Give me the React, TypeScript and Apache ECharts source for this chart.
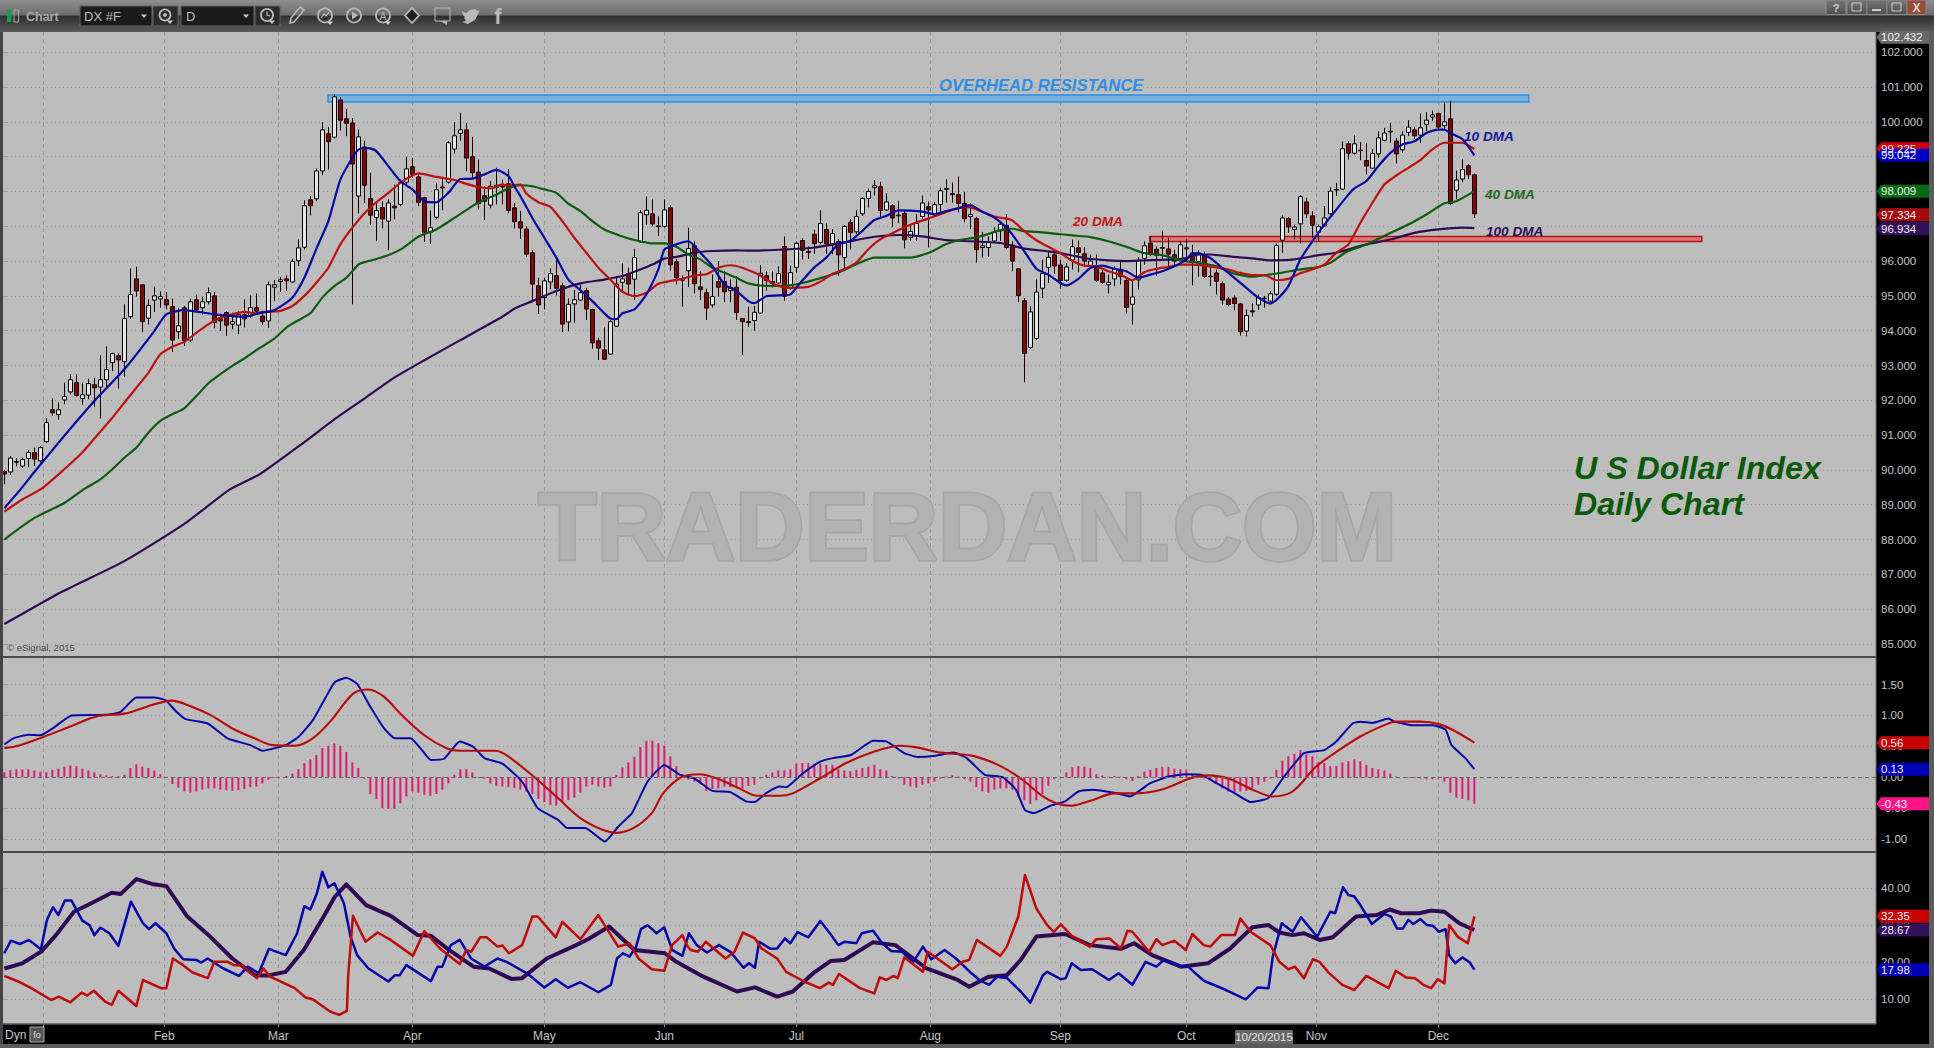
import React, { useEffect, useRef } from "react";
import * as echarts from "echarts";

// [open, close, low, high] per trading day
const ohlc: number[][] = [
[89.95,89.88,89.59,90.0],[89.94,90.34,89.86,90.40],[90.24,90.22,90.10,90.33],[90.11,90.30,90.06,90.35],[90.33,90.50,90.08,90.57],[90.50,90.31,90.11,90.64],[90.26,90.64,90.21,90.69],[90.81,91.36,90.78,91.48],[91.73,91.64,91.55,92.06],[91.59,91.73,91.44,91.94],
[92.01,92.11,91.89,92.51],[92.24,92.59,92.17,92.75],[92.51,92.14,92.11,92.75],[92.05,92.16,91.87,92.51],[92.15,92.48,92.03,92.62],[92.45,92.36,91.82,92.65],[92.38,92.59,91.48,93.29],[92.59,92.88,92.36,93.55],[93.08,93.34,92.84,93.37],[93.28,93.16,92.34,93.35],
[93.11,94.35,92.68,94.76],[94.40,95.04,94.34,95.79],[95.49,95.14,94.98,95.84],[95.32,94.26,93.96,95.32],[94.36,94.72,94.18,94.90],[94.88,95.00,94.54,95.27],[94.91,94.98,94.66,95.13],[94.89,94.74,94.61,95.11],[94.69,93.73,93.39,94.92],[93.97,94.14,93.77,94.66],
[94.66,93.72,93.56,94.71],[93.73,94.83,93.67,94.92],[94.89,94.60,94.56,95.04],[94.66,94.83,94.47,94.98],[94.83,95.09,94.76,95.24],[95.00,94.23,94.07,95.11],[94.34,94.28,93.99,94.47],[94.52,94.16,93.85,94.56],[94.19,94.26,94.04,94.52],[94.16,94.46,93.90,94.56],
[94.46,94.34,94.09,94.90],[94.42,94.66,94.37,95.01],[94.66,94.56,94.47,95.07],[94.42,94.26,94.16,94.50],[94.28,95.32,94.08,95.41],[95.25,95.32,94.85,95.45],[95.41,95.46,95.11,95.55],[95.49,95.43,95.14,95.59],[95.40,95.99,95.38,96.07],[96.01,96.38,95.86,96.62],
[96.40,97.59,96.33,97.75],[97.76,97.59,97.31,97.87],[97.79,98.59,97.72,98.66],[98.59,99.77,98.47,99.99],[99.66,99.43,98.63,99.86],[99.56,100.72,99.52,100.78],[100.63,100.05,99.75,100.72],[100.09,99.96,99.59,100.37],[99.97,98.79,94.76,100.11],[97.87,99.57,97.37,99.78],
[99.28,98.18,97.67,99.46],[97.80,97.32,97.05,98.54],[97.25,97.45,96.57,97.72],[97.54,97.21,96.94,97.72],[97.15,97.67,96.31,97.77],[97.58,97.53,97.20,98.20],[97.63,98.25,97.58,98.34],[98.27,98.65,98.15,99.00],[98.71,98.49,98.39,98.97],[98.42,97.69,97.58,98.54],
[97.82,96.81,96.55,97.85],[96.83,96.96,96.49,97.45],[97.26,98.05,97.20,98.25],[98.13,98.10,97.46,98.42],[98.27,99.40,98.23,99.45],[99.22,99.60,99.09,99.99],[99.67,99.77,99.46,100.26],[99.77,98.96,98.58,99.97],[99.00,98.54,98.39,99.57],[98.56,97.65,97.48,98.92],
[97.88,97.72,97.18,98.15],[97.61,98.15,97.52,98.30],[98.11,98.18,97.63,98.68],[98.16,98.13,97.63,98.34],[98.22,97.46,97.37,98.65],[97.53,97.13,96.94,97.67],[97.13,96.95,96.64,97.44],[96.92,96.20,96.11,97.00],[96.24,95.34,94.82,96.31],[95.29,94.74,94.48,95.52],
[94.95,95.43,94.61,95.52],[95.40,95.64,95.19,95.79],[95.58,95.22,95.01,96.10],[95.29,94.19,93.96,95.38],[94.25,94.76,93.98,94.93],[94.77,94.89,94.23,95.17],[94.88,95.09,94.85,95.33],[95.15,94.62,94.31,95.23],[94.61,93.65,93.48,94.63],[93.71,93.50,93.16,93.80],
[93.45,93.18,93.16,94.09],[93.33,94.26,93.31,94.31],[94.13,95.34,94.11,95.57],[95.39,95.49,95.14,95.93],[95.64,95.34,95.04,95.81],[95.48,96.10,94.88,96.35],[96.55,97.39,96.52,97.47],[97.33,97.46,97.05,97.86],[97.36,97.07,97.00,97.77],[97.01,96.99,96.72,97.29],
[97.00,97.47,96.96,97.77],[97.53,95.89,95.73,97.60],[95.98,95.52,95.33,96.07],[95.45,95.50,94.69,95.59],[95.72,96.36,95.26,96.96],[96.44,95.35,95.07,96.57],[95.26,95.18,94.88,95.71],[95.09,94.65,94.31,95.21],[94.74,94.98,94.66,95.62],[95.41,95.25,94.98,96.00],
[95.41,95.12,94.82,95.71],[95.15,95.25,94.82,95.47],[95.25,94.52,94.31,95.57],[94.35,94.26,93.30,94.37],[94.26,94.23,94.11,94.69],[94.29,94.53,94.00,94.71],[94.51,95.65,94.48,95.89],[95.58,95.44,95.15,95.72],[95.41,95.36,95.24,95.72],[95.37,95.64,95.34,95.85],
[96.42,94.99,94.86,96.71],[95.22,95.67,95.18,95.87],[95.82,96.51,95.67,96.56],[96.59,96.31,96.04,96.66],[96.28,96.25,96.06,96.42],[96.77,96.50,96.20,96.90],[96.54,97.08,96.49,97.46],[96.91,96.50,96.20,97.08],[96.49,96.79,96.20,96.92],[96.56,96.18,95.58,96.63],
[96.10,97.00,95.75,97.03],[97.11,96.82,96.33,97.21],[96.84,97.28,96.78,97.46],[97.36,97.80,97.30,97.83],[97.80,98.00,97.54,98.09],[98.11,98.17,97.88,98.33],[98.14,97.45,97.25,98.28],[97.47,97.70,97.44,97.95],[97.59,97.24,96.97,97.64],[97.32,97.30,97.09,97.73],
[97.37,96.61,96.37,97.44],[96.68,96.85,96.58,97.06],[96.73,97.08,96.58,97.35],[97.28,97.67,97.22,97.88],[97.57,97.47,96.39,97.71],[97.33,97.62,97.28,97.70],[97.63,98.02,97.40,98.11],[98.06,98.09,97.68,98.35],[97.94,97.91,97.68,98.26],[97.91,97.66,97.40,98.43],
[97.66,97.22,97.11,97.99],[97.28,97.34,96.92,97.67],[97.22,96.33,95.96,97.28],[96.39,96.44,96.10,96.84],[96.39,96.54,96.12,96.71],[96.58,96.82,96.54,96.97],[96.87,97.06,96.58,97.16],[97.03,96.39,96.34,97.35],[96.46,96.00,95.71,96.57],[95.78,95.01,94.82,95.80],
[94.86,93.35,92.52,94.94],[93.52,94.54,93.48,94.70],[93.78,95.11,93.73,95.47],[95.22,95.64,94.94,96.04],[95.82,96.11,95.37,96.28],[96.18,95.86,95.64,96.23],[95.89,95.44,95.21,96.04],[95.45,95.83,95.40,95.95],[96.03,96.41,95.76,96.62],[96.38,96.25,95.68,96.59],
[96.21,96.00,95.83,96.41],[95.85,96.00,95.83,96.19],[95.85,95.45,95.40,96.19],[95.66,95.39,95.34,95.76],[95.32,95.39,95.07,95.61],[95.49,95.78,95.28,95.85],[95.76,95.56,95.33,96.00],[95.44,94.67,94.49,95.55],[94.76,94.97,94.18,95.47],[95.46,96.02,95.18,96.11],
[96.08,96.44,95.90,96.57],[96.52,96.23,96.14,96.71],[96.34,96.17,95.58,96.43],[96.39,96.37,96.02,96.88],[96.35,96.20,95.83,96.67],[96.18,96.00,95.83,96.33],[96.06,96.47,96.02,96.57],[96.35,96.38,96.02,96.62],[96.23,95.98,95.30,96.47],[95.99,96.23,95.55,96.31],
[96.17,95.56,95.52,96.28],[95.57,95.55,95.28,95.87],[95.66,95.42,95.04,95.76],[95.35,94.88,94.75,95.42],[94.91,94.75,94.70,94.97],[94.94,94.78,94.59,95.01],[94.77,93.97,93.86,94.80],[93.99,94.44,93.84,94.61],[94.57,94.54,94.40,94.80],[94.74,94.95,94.59,95.04],
[94.92,94.94,94.66,95.00],[94.85,95.06,94.80,95.14],[95.05,96.45,95.00,96.51],[96.60,97.24,96.24,97.31],[97.22,96.98,96.81,97.27],[96.91,96.98,96.62,97.05],[97.07,97.85,96.51,97.89],[97.70,97.36,97.24,97.82],[97.30,97.03,96.67,97.44],[96.83,96.99,96.57,97.05],
[97.01,97.24,96.99,97.58],[97.36,98.01,97.33,98.12],[98.04,98.06,97.87,98.25],[98.07,99.23,98.04,99.44],[99.37,99.10,98.92,99.44],[99.10,99.37,99.06,99.61],[99.19,99.17,98.90,99.42],[98.89,98.73,98.49,99.40],[98.67,99.09,98.65,99.22],[99.08,99.54,98.97,99.73],
[99.47,99.68,99.44,99.83],[99.71,99.73,99.40,99.97],[99.45,99.08,98.80,99.54],[99.20,99.62,99.11,99.73],[99.70,99.85,99.59,100.05],[99.77,99.60,99.51,99.86],[99.62,99.83,99.40,100.24],[99.93,100.05,99.73,100.28],[100.14,100.20,100.02,100.33],[100.24,99.85,99.78,100.26],
[99.89,100.00,99.80,100.56],[100.09,97.65,97.61,100.61],[98.04,98.33,97.77,98.60],[98.36,98.63,98.27,98.92],[98.74,98.48,98.36,98.78],[98.48,97.36,97.24,98.52],
];

// moving averages: [bar number, value]
const dma10: number[][] = [[0,88.9],[2.7,89.44],[5,89.94],[10,90.98],[15,91.98],[20,92.89],[25,93.99],[27,94.47],[30,94.59],[35,94.47],[40,94.40],[42,94.48],[43,94.52],[45,94.59],[48,94.95],[50,95.52],[52,96.35],[54,97.15],[56,98.34],[58,98.97],[59,99.2],[60,99.25],[61,99.24],[62,99.16],[64,98.73],[66,98.3],[68,98.06],[70,97.72],[72,97.69],[74,97.96],[76,98.36],[78,98.37],[80,98.49],[82,98.62],[84,98.45],[85,98.15],[86,97.87],[88,97.24],[90,96.67],[92,96.1],[94,95.47],[96,95.17],[98,94.85],[100,94.5],[101,94.35],[102,94.33],[103,94.5],[105,94.61],[107,95.04],[109,95.76],[110,96.33],[112,96.48],[114,96.57],[116,96.24],[118,95.86],[120,95.33],[122,95.14],[124,94.85],[125,94.79],[127,94.99],[130,95.02],[131,95.04],[133,95.44],[135,95.82],[137,96.1],[139,96.49],[141,96.58],[143,96.87],[145,97.18],[147,97.3],[149,97.46],[151,97.45],[153,97.42],[155,97.35],[157,97.44],[159,97.52],[161,97.61],[163,97.42],[165,97.25],[167,96.97],[168,96.76],[170,96.28],[172,95.78],[174,95.61],[176,95.37],[177,95.3],[179,95.49],[181,95.8],[183,95.87],[185,95.78],[187,95.71],[189,95.52],[191,95.61],[193,95.71],[195,95.85],[197,96.04],[198,96.22],[199,96.22],[201,96.09],[203,95.8],[205,95.52],[207,95.23],[209,94.95],[211,94.78],[212,94.88],[214,95.28],[216,96.05],[218,96.57],[220,97.05],[222,97.48],[224,97.91],[225,98.09],[227,98.3],[229,98.73],[231,99.11],[233,99.35],[235,99.44],[237,99.68],[239,99.78],[240,99.78],[241,99.68],[243,99.51],[245,99.04]];
const dma20: number[][] = [[0,88.8],[3,89.15],[6.2,89.46],[10,90.02],[13,90.5],[15,90.9],[18,91.5],[20,91.93],[22,92.36],[24,92.79],[26,93.32],[28,93.54],[30,93.68],[32,93.94],[34,94.18],[36,94.37],[38,94.47],[40,94.54],[42,94.5],[43,94.54],[46,94.57],[48,94.71],[50,95.0],[52,95.38],[54,95.81],[56,96.48],[58,96.96],[60,97.37],[62,97.69],[64,97.96],[66,98.25],[68,98.46],[69,98.52],[72,98.42],[75,98.33],[77,98.22],[79,98.13],[81,98.09],[83,98.2],[84,98.17],[86,98.2],[87,97.94],[89,97.69],[91,97.56],[93,97.15],[95,96.67],[97,96.24],[99,95.81],[101,95.47],[103,95.12],[105,94.99],[107,95.09],[109,95.35],[111,95.43],[113,95.49],[115,95.59],[117,95.62],[119,95.81],[121,95.88],[123,95.81],[125,95.67],[126,95.58],[128,95.37],[130,95.24],[132,95.24],[134,95.26],[136,95.41],[138,95.63],[140,95.77],[142,95.96],[144,96.34],[146,96.63],[148,96.8],[150,96.97],[152,97.11],[154,97.22],[156,97.35],[158,97.47],[160,97.56],[161,97.54],[163,97.42],[165,97.28],[167,97.22],[168,97.17],[170,96.86],[172,96.6],[174,96.41],[176,96.23],[178,96.0],[180,95.87],[182,95.85],[184,95.71],[186,95.61],[188,95.45],[190,95.68],[192,95.78],[194,95.83],[196,95.9],[198,95.9],[200,95.87],[202,95.82],[204,95.76],[206,95.66],[208,95.6],[210,95.6],[212,95.45],[214,95.49],[216,95.65],[218,95.76],[220,95.9],[222,96.24],[224,96.48],[226,97.1],[228,97.67],[230,98.2],[232,98.46],[234,98.68],[236,98.9],[238,99.21],[240,99.4],[243,99.4],[245,99.22]];
const dma40: number[][] = [[0,88.0],[5,88.62],[10,89.05],[13.4,89.46],[16,89.73],[18,90.02],[20,90.35],[22,90.64],[24,91.07],[26,91.41],[28,91.6],[30,91.77],[32,92.12],[34,92.49],[36,92.75],[38,92.99],[40,93.2],[42,93.44],[45,93.77],[47,94.09],[49,94.3],[51,94.5],[53,94.95],[55,95.28],[57,95.52],[59,95.9],[60,95.97],[63,96.11],[66,96.33],[69,96.7],[72,96.91],[75,97.24],[78,97.58],[80,97.77],[82,97.91],[84,98.09],[86,98.18],[88,98.15],[90,98.06],[92,97.96],[94,97.65],[96,97.44],[98,97.15],[100,96.91],[102,96.77],[104,96.65],[106,96.57],[108,96.51],[110,96.51],[112,96.41],[114,96.19],[116,96.05],[118,95.81],[120,95.67],[122,95.52],[124,95.36],[127,95.29],[130,95.29],[133,95.37],[136,95.51],[139,95.67],[142,95.91],[145,96.1],[148,96.1],[151,96.1],[154,96.23],[157,96.49],[159,96.6],[162,96.68],[164,96.78],[166,96.89],[168,96.93],[170,96.86],[172,96.84],[175,96.79],[178,96.74],[181,96.69],[184,96.57],[187,96.41],[190,96.23],[193,96.17],[196,96.02],[199,95.95],[202,95.85],[205,95.64],[208,95.55],[210,95.59],[213,95.67],[216,95.76],[219,95.83],[221,95.95],[223,96.19],[224,96.29],[227,96.48],[231,96.81],[234,97.05],[237,97.34],[240,97.66],[242,97.72],[245,98.01]];
const dma100: number[][] = [[0,85.57],[9.6,86.5],[20,87.38],[30,88.45],[37.6,89.44],[42.6,89.88],[50,90.8],[55,91.45],[60,92.05],[65,92.65],[70,93.15],[76,93.73],[83,94.4],[85,94.63],[88,94.85],[92,95.14],[96,95.36],[100,95.47],[103,95.57],[106,95.76],[108,95.9],[110,96.07],[112,96.12],[115,96.24],[118,96.29],[122,96.31],[124,96.3],[131,96.34],[135,96.39],[140,96.54],[145,96.7],[149,96.75],[153,96.71],[157,96.6],[161,96.57],[166,96.52],[170,96.36],[174,96.28],[176,96.23],[180,96.09],[184,96.02],[187,96.0],[190,96.02],[194,96.04],[197,96.09],[199,96.19],[201,96.19],[205,96.12],[208,96.08],[211,96.02],[215,96.05],[219,96.17],[222,96.24],[227,96.48],[231,96.62],[235,96.81],[239,96.91],[243,96.96],[245,96.95]];

// MACD pane
const macdLine: number[][] = [[0,.53],[1.5,.63],[4.1,.69],[6,.68],[8.2,.80],[11.2,1.00],[17.1,1.01],[19.4,1.06],[22,1.29],[25,1.29],[26.8,1.25],[28.7,1.06],[30.2,.94],[33.9,.87],[37.2,.63],[41,.52],[43,.43],[46.9,.52],[49.1,.66],[51.4,.92],[53.6,1.30],[55.1,1.54],[57,1.61],[58.8,1.51],[61,1.14],[63.3,.79],[65.1,.63],[67.7,.63],[69.6,.44],[71.1,.28],[73.3,.30],[75.9,.58],[78.2,.49],[80,.31],[83,.22],[86.3,-.07],[88.9,-.50],[92.3,-.69],[93.8,-.82],[96.8,-.82],[100.1,-1.04],[102.3,-.80],[104.6,-.58],[107.2,-.07],[110,.20],[112.6,.04],[115,-.02],[118,-.22],[121,-.24],[123.6,-.39],[125.1,-.40],[126.9,-.26],[129.2,-.15],[130.3,-.16],[132.9,.05],[135.9,.25],[138.1,.31],[141.1,.36],[144.8,.59],[147,.58],[150,.39],[152.2,.33],[155.2,.35],[158.2,.40],[160.4,.31],[163.4,.04],[166.4,0],[168.6,-.20],[170.1,-.53],[171.6,-.58],[174.6,-.45],[176.8,-.39],[179,-.23],[181.3,-.20],[185,-.25],[187.6,-.31],[190.9,-.10],[193.9,.01],[196.9,.05],[199.5,.04],[202.1,-.10],[205.1,-.26],[207.7,-.40],[210.6,-.34],[213.3,.01],[216.6,.39],[220,.44],[222,.58],[224.7,.87],[226,.90],[228,.88],[230.7,.95],[231.7,.90],[234.8,.84],[238.1,.84],[240.2,.77],[241.2,.52],[243.5,.31],[245,.13]];
const macdSignal: number[][] = [[0,.47],[2.3,.51],[6.7,.66],[11.2,.83],[15.6,.99],[20.1,1.03],[24.6,1.17],[27.9,1.24],[30.5,1.17],[34.3,1.01],[38,.79],[41.7,.63],[44.7,.52],[48.4,.51],[51.4,.63],[54.3,.90],[58.1,1.35],[60.7,1.42],[63.3,1.30],[66.2,1.01],[70,.68],[73.7,.47],[75.9,.43],[81.9,.43],[84.1,.33],[88.6,-.02],[92.3,-.34],[96,-.66],[99.7,-.85],[102,-.90],[104.9,-.82],[107.9,-.58],[109.8,-.26],[112.8,0],[115.8,.05],[118.8,-.02],[122.5,-.18],[125.5,-.30],[129.2,-.30],[131.4,-.26],[135.9,-.02],[140.3,.23],[144.8,.41],[149.3,.51],[152.2,.48],[156,.40],[161.2,.35],[165.6,.20],[169.4,-.02],[173.1,-.31],[175.3,-.42],[177.9,-.46],[181.3,-.37],[185,-.26],[188.7,-.26],[193.2,-.19],[197.6,-.02],[200.6,.03],[204.3,-.03],[208,-.20],[211.4,-.31],[214.7,-.23],[218.6,.17],[222,.41],[226,.66],[230.4,.86],[232,.90],[236.1,.90],[239.1,.86],[241.5,.76],[245,.56]];
const macdHist: number[] = [
.08,.12,.13,.13,.13,.11,.09,.08,.12,.14,.17,.19,.18,.14,.11,.08,.05,.03,.02,.02,.04,.15,.21,.17,.15,.11,.05,-.01,
-.11,-.17,-.23,-.25,-.23,-.20,-.18,-.18,-.20,-.21,-.22,-.21,-.19,-.16,-.15,-.10,-.04,
-.01,0,.02,.06,.13,.23,.29,.36,.47,.51,.55,.51,.41,.24,.15,
-.02,-.27,-.35,-.50,-.51,-.51,-.42,-.31,-.23,-.25,-.28,-.30,-.27,-.20,-.10,.04,.13,.13,.08,-.01,
-.02,-.10,-.14,-.15,-.16,-.17,-.20,-.23,-.27,-.35,-.40,-.45,-.46,-.41,-.37,-.33,-.25,-.15,-.12,-.15,-.17,-.15,
.04,.16,.24,.33,.49,.59,.59,.55,.51,.34,.18,
.05,-.04,-.07,-.10,-.22,-.19,-.18,-.15,-.16,-.15,-.18,-.14,-.12,-.02,.04,.08,.11,.11,.13,.22,.23,.23,.22,.22,.20,.20,.13,.11,.10,.12,.15,.17,.20,.13,.11,.02,-.02,
-.12,-.15,-.17,-.12,-.10,-.07,-.02,.01,.03,.01,-.03,-.07,-.16,-.23,-.25,-.20,-.18,-.18,-.20,-.31,-.37,-.43,-.37,-.27,-.14,-.03,-.01,.08,.16,.18,.17,.15,.05,.03,.01,.02,.01,-.03,-.06,.02,.09,.12,.15,.17,.17,.14,.13,.12,.04,.01,-.02,-.04,-.10,-.18,-.23,-.25,-.23,-.22,-.18,-.12,-.07,-.02,.12,.27,.34,.38,.44,.37,.34,.25,
.23,.18,.18,.24,.26,.29,.26,.20,.15,.13,.11,.06,.01,0,-.01,-.01,-.02,-.03,-.03,-.02,-.07,-.25,-.33,-.35,-.37,-.43,
];

// directional pane
const dmiBlue: number[][] = [[0,22.4],[1.1,25.8],[2.6,24.9],[4.1,26.0],[6.1,23.5],[7.1,31.4],[8.1,34.8],[9,32.7],[10.1,36.6],[11.2,36.6],[13,31.2],[14.2,30.0],[15,27.3],[16,29.3],[17.5,27.8],[19,24.4],[21.1,36.3],[23.1,30.5],[24.1,28.9],[25.2,30.5],[27,27.8],[28.3,23.7],[29.8,20.8],[32,20.6],[32.8,19.9],[33.9,21.0],[36.5,18.3],[39.1,16.3],[40.6,18.8],[42.4,17.0],[44.1,23.6],[45.4,22.8],[46.9,21.9],[48.8,27.8],[50,35.1],[51,34.2],[52.1,38.6],[53,44.4],[54,40.2],[55,41.3],[56.6,35.9],[57.7,26.9],[58.8,21.9],[60.7,18.3],[64,14.8],[65.1,16.5],[65.9,16.5],[67,19.2],[71.1,14.9],[72.2,18.8],[73,18.8],[74.4,24.6],[75.9,26.0],[77.8,21.0],[80,18.8],[82.2,21.0],[83.7,20.1],[87.1,17.0],[90,13.2],[91.9,15.4],[93.9,13.1],[96,14.6],[99,11.9],[101.1,13.9],[102.1,21.0],[103.1,22.4],[104.2,21.5],[105.3,24.2],[106.1,28.9],[107.2,30.0],[108.7,27.8],[110,29.4],[111.3,23.3],[113,21.7],[114.1,27.8],[115.4,24.6],[117.1,22.6],[119.1,24.6],[121,22.8],[123.2,18.5],[124.1,19.7],[125.1,18.5],[125.8,25.5],[127.7,23.6],[128.8,23.7],[130.1,26.4],[131,25.1],[132.2,28.1],[134,26.7],[136,31.1],[137.4,28.2],[139,24.6],[140,25.5],[142,25.1],[142.9,27.8],[144.8,28.5],[146.3,25.1],[147.8,23.0],[149.6,22.8],[151.5,20.1],[153.1,24.2],[154.5,20.8],[156.7,23.3],[158.6,21.0],[161.2,17.0],[162.5,15.2],[164.1,13.9],[165.5,16.1],[167.1,15.7],[169.4,12.1],[171,9.1],[173.1,16.5],[173.8,17.4],[176.1,15.4],[176.9,15.7],[177.9,19.7],[179.4,17.9],[181.3,18.1],[184.1,15.2],[185.7,17.0],[188,13.9],[190.2,20.1],[192,18.8],[193.2,20.6],[196.1,19.0],[197.3,18.8],[199.9,15.0],[203.6,12.5],[206.9,10.0],[208.9,13.2],[210.7,13.0],[211.4,21.5],[212.9,30.5],[214.7,28.2],[216.1,32.1],[218.8,26.9],[221,33.6],[221.8,33.2],[223.1,40.2],[224,38.1],[225,37.7],[226,35.4],[227.9,30.3],[230,33.0],[231.1,32.3],[232.1,29.1],[233.1,29.1],[234,31.4],[234.8,30.3],[236,31.6],[237.1,30.0],[238.1,29.8],[239.1,28.2],[240.2,28.9],[240.8,21.9],[241.8,19.7],[243,21.3],[244.2,20.0],[245,17.98]];
const dmiRed: number[][] = [[0,16.3],[2.3,14.8],[4.5,13.0],[7.8,9.8],[9.1,10.7],[11,9.2],[12.9,11.8],[13.8,11.0],[14.9,12.3],[16.8,9.4],[17.9,8.5],[19,12.3],[22,8.2],[23.1,15.2],[26.1,13.0],[27,13.0],[28.1,21.0],[29.8,19.2],[31.3,17.3],[33.9,15.7],[35,20.1],[37.2,20.1],[38.3,19.2],[39.5,19.2],[42.1,15.7],[43.2,18.3],[44.3,16.1],[48.4,13.0],[50.2,10.5],[51.4,10.0],[54.3,6.7],[55.8,5.8],[57.1,6.9],[57.3,16.1],[58.1,32.5],[60.2,25.5],[62.2,28.0],[64.4,26.0],[68.1,21.7],[70,28.4],[72.6,23.7],[75.9,19.5],[77,23.3],[77.8,22.8],[79.3,26.7],[80.4,26.7],[82.2,24.2],[83,24.5],[84.1,22.4],[86.3,24.6],[88,32.3],[88.9,32.3],[91.9,26.7],[93,30.9],[96,26.2],[99,32.7],[102.3,24.2],[104.2,25.1],[105.7,21.0],[107.9,18.1],[110,17.7],[111.3,24.6],[113,27.3],[113.9,24.2],[114.4,23.3],[115.6,22.8],[116.9,25.5],[120.2,21.0],[121.7,22.8],[123.1,28.0],[125.1,26.4],[126.2,23.7],[128.8,21.0],[130.3,17.4],[133.3,14.8],[135.9,13.0],[137.4,14.5],[138.1,13.9],[139.1,16.8],[142.6,13.0],[145,11.6],[145.9,15.9],[147,15.2],[148.2,16.3],[148.9,15.7],[150,21.3],[153.1,17.4],[153.9,22.8],[158,18.1],[159.7,20.1],[160.8,20.6],[162.1,26.0],[166,21.7],[167.1,24.2],[169,32.3],[170.1,43.5],[172,34.5],[173.8,30.0],[174.9,28.2],[176.1,30.2],[177.9,27.1],[180.9,24.2],[182,26.2],[184.2,26.4],[186.1,23.7],[187.2,28.5],[188,28.2],[190.8,22.8],[192,26.2],[193,24.6],[195,25.8],[196.9,23.3],[198,27.6],[199.9,24.6],[201,24.2],[202.8,27.3],[205.1,27.3],[206,31.8],[207.7,28.2],[211,24.6],[212.5,20.1],[214,18.1],[215.1,18.8],[216.6,15.7],[218.1,20.8],[219.2,20.1],[220.7,17.2],[223,13.9],[225,12.5],[227,16.3],[230.7,13.0],[231.9,17.7],[233.6,15.9],[235.1,15.7],[236.5,13.9],[237.8,13.0],[238.9,15.4],[240,14.3],[240.8,30.0],[242.2,26.9],[243.9,25.1],[245,32.35]];
const dmiPurple: number[][] = [[0,18.3],[3,19.7],[6.1,22.8],[8.6,27.3],[11.6,33.6],[14.5,35.9],[17.9,38.7],[19.4,38.4],[22,42.4],[24.6,41.1],[27,40.5],[30.5,32.3],[34.3,26.9],[38,21.0],[41.7,16.5],[43.9,16.4],[46.9,17.4],[49.9,23.3],[52.9,31.4],[55.1,37.7],[57,41.0],[60.3,35.4],[64.4,32.5],[68.9,27.3],[71.1,27.1],[74.1,23.3],[78.2,18.8],[80.8,18.3],[84.5,15.5],[86.3,15.7],[90.4,21.0],[95.3,24.6],[97.5,26.4],[100.8,29.6],[105,23.3],[110.1,22.4],[112,20.1],[116.5,16.1],[122.1,12.1],[125.1,13.2],[128.8,10.7],[131.4,12.1],[135.1,17.4],[137.7,20.3],[140,20.6],[144.8,25.4],[148.5,24.6],[153.7,18.3],[158.9,15.2],[160.8,13.4],[164.1,16.1],[167.1,16.5],[169.4,20.6],[172,26.9],[176.8,27.6],[180.9,24.6],[186.1,23.6],[188.3,25.1],[191.3,21.9],[196.1,18.8],[200.6,19.7],[204.3,23.7],[208,29.4],[210.7,30.0],[212.5,28.0],[214.7,27.3],[216.6,27.8],[219.2,26.0],[221.4,26.7],[225.3,32.3],[228.7,32.7],[230.9,34.2],[232.7,33.2],[235.8,33.2],[237.8,33.9],[240,33.6],[242.5,30.5],[245,28.67]];

const monthTicks = [6.5, 26.67, 45.67, 68, 90, 110, 132, 154.33, 176, 197, 218.67, 239];
const monthNames = ["", "Feb", "Mar", "Apr", "May", "Jun", "Jul", "Aug", "Sep", "Oct", "Nov", "Dec"];
const priceTicks = [85, 86, 87, 88, 89, 90, 91, 92, 93, 94, 95, 96, 97, 98, 99, 100, 101, 102];
const macdTicks = [-1, -0.5, 0, 0.5, 1, 1.5];
const dmiTicks = [10, 20, 30, 40];

const resistanceBand = { from: 53.95, to: 254.06, low: 100.57, high: 100.77 };
const supportBand = { from: 190.9, to: 282.9, low: 96.56, high: 96.71 };

const priceTags = [
  { v: 102.432, t: "102.432", c: "#6a6a6a" },
  { v: 99.225, t: "99.225", c: "#d00010" },
  { v: 99.042, t: "99.042", c: "#0000c0" },
  { v: 98.009, t: "98.009", c: "#066a10" },
  { v: 97.334, t: "97.334", c: "#a80808" },
  { v: 96.934, t: "96.934", c: "#33105a" },
];
const macdTags = [
  { v: 0.56, t: "0.56", c: "#c80000" },
  { v: 0.13, t: "0.13", c: "#0000b8" },
  { v: -0.43, t: "-0.43", c: "#ff1488" },
];
const dmiTags = [
  { v: 32.35, t: "32.35", c: "#c80000" },
  { v: 28.67, t: "28.67", c: "#33105a" },
  { v: 17.98, t: "17.98", c: "#0000b8" },
];

const FONT = '"Liberation Sans", Arial, sans-serif';
const BG = "#bdbdbd";
const AXT = "#c4c4c4";

function gridAxisY(idx: number, min: number, max: number, ticks: number[], digits: number) {
  return {
    type: "value", gridIndex: idx, position: "right", min, max, scale: true,
    axisLine: { show: false },
    axisTick: { show: true, length: 3, customValues: ticks, lineStyle: { color: "#999" } },
    axisLabel: { customValues: ticks, color: AXT, fontFamily: FONT, fontSize: 11.5, margin: 5, showMinLabel: true, showMaxLabel: true, formatter: (v: number) => v.toFixed(digits) },
    splitLine: { show: true, lineStyle: { color: "#9c9c9c", type: [1, 3], width: 1 } },
  };
}
function gridAxisX(idx: number, labels: boolean) {
  return {
    type: "value", gridIndex: idx, min: -0.2217, max: 311.94,
    axisLine: { show: false },
    axisTick: { show: labels, length: 3, customValues: monthTicks, lineStyle: { color: "#999" } },
    axisLabel: {
      show: labels, customValues: monthTicks.slice(1), color: AXT, fontFamily: FONT, fontSize: 12, margin: 6,
      formatter: (v: number) => monthNames[monthTicks.indexOf(v)] || "",
    },
    splitLine: { show: true, lineStyle: { color: "#9a9a9a", type: [4, 3], width: 1 } },
  };
}
function lineSeries(name: string, data: number[][], color: string, width: number, idx: number, smooth: number | boolean, z = 3) {
  return { name, type: "line", data, xAxisIndex: idx, yAxisIndex: idx, showSymbol: false, symbol: "none", smooth, z, lineStyle: { color, width, join: "round" }, silent: true };
}
function txt(text: string, x: number, y: number, fill: string, font: string, align = "left") {
  return { type: "text", z: 20, silent: true, style: { text, x, y, fill, font, textAlign: align, textVerticalAlign: "middle" } };
}
function r(x: number, y: number, w: number, h: number, fill: any, stroke?: string, z = 15) {
  return { type: "rect", z, silent: true, shape: { x, y, width: w, height: h }, style: { fill, stroke, lineWidth: stroke ? 1 : 0 } };
}
function staticGraphics(): any[] {
  const icon = "#b9b9b9";
  const ring = (cx: number, cy: number, rad: number) => ({ type: "circle", z: 20, silent: true, shape: { cx, cy, r: rad }, style: { fill: "none", stroke: icon, lineWidth: 1.8 } });
  const arrow = (cx: number, cy: number) => ({ type: "polygon", z: 20, silent: true, shape: { points: [[cx - 3, cy - 1.5], [cx + 3, cy - 1.5], [cx, cy + 2]] }, style: { fill: "#cccccc" } });
  const toolbarFill = new echarts.graphic.LinearGradient(0, 0, 0, 1, [
    { offset: 0, color: "#8e8e8e" }, { offset: 0.47, color: "#6c6c6c" }, { offset: 0.5, color: "#2f2f2f" }, { offset: 1, color: "#5a5a5a" },
  ]);
  const btn = new echarts.graphic.LinearGradient(0, 0, 0, 1, [{ offset: 0, color: "#777" }, { offset: 1, color: "#4e4e4e" }]);
  return [
    // window frame
    r(0, 0, 1934, 32, toolbarFill),
    r(0, 32, 3, 1016, "#444444"),
    r(1929, 32, 5, 1016, "#5c5c5c"),
    r(0, 1044, 1934, 4, "#5c5c5c"),
    { type: "line", z: 12, silent: true, shape: { x1: 3, y1: 657, x2: 1876, y2: 657 }, style: { stroke: "#4a4a4a", lineWidth: 2 } },
    { type: "line", z: 12, silent: true, shape: { x1: 3, y1: 852, x2: 1876, y2: 852 }, style: { stroke: "#4a4a4a", lineWidth: 2 } },
    { type: "line", z: 12, silent: true, shape: { x1: 3, y1: 1024, x2: 1876, y2: 1024 }, style: { stroke: "#5a5a5a", lineWidth: 1.5 } },
    { type: "line", z: 12, silent: true, shape: { x1: 1876, y1: 32, x2: 1876, y2: 1024 }, style: { stroke: "#6a6a6a", lineWidth: 1 } },
    // toolbar
    r(7, 10, 4.5, 12, "#10a040"),
    r(14, 10, 4.5, 12, "none", "#aaaaaa"),
    txt("Chart", 26, 16.5, "#a8a8a8", `bold 12.5px ${FONT}`),
    r(80, 6, 72, 20, "#1b1b1b", "#666"),
    txt("DX #F", 84, 16.5, "#bdbdbd", `13px ${FONT}`),
    arrow(144, 16),
    r(153, 6, 25, 20, "#2b2b2b", "#666"),
    ring(165, 15, 5.5), { type: "circle", z: 20, silent: true, shape: { cx: 165, cy: 15, r: 2 }, style: { fill: icon } }, arrow(170, 22),
    r(181, 6, 73, 20, "#1b1b1b", "#666"),
    txt("D", 186, 16.5, "#bdbdbd", `13px ${FONT}`),
    arrow(246, 16),
    r(255, 6, 25, 20, "#2b2b2b", "#666"),
    ring(267, 15, 6),
    { type: "polyline", z: 20, silent: true, shape: { points: [[267, 11.5], [267, 15], [270, 16]] }, style: { stroke: icon, fill: "none", lineWidth: 1.2 } },
    arrow(272, 22),
    { type: "polygon", z: 20, silent: true, shape: { points: [[290, 23], [291, 18], [300, 7], [304, 10], [294, 22]] }, style: { fill: "none", stroke: icon, lineWidth: 1.6 } },
    ring(325, 15.5, 7), { type: "polyline", z: 20, silent: true, shape: { points: [[321, 18], [324, 14], [326, 16], [329, 12]] }, style: { stroke: icon, fill: "none", lineWidth: 1.2 } },
    arrow(330, 23),
    ring(354, 15.5, 7), { type: "polygon", z: 20, silent: true, shape: { points: [[352, 11.5], [358, 15.5], [352, 19.5]] }, style: { fill: icon } },
    ring(383, 15.5, 7), txt("A", 383, 16, icon, `10px ${FONT}`, "center"), arrow(388, 23),
    { type: "polygon", z: 20, silent: true, shape: { points: [[412, 8], [419, 15.5], [412, 23], [405, 15.5]] }, style: { fill: "#1f1f1f", stroke: icon, lineWidth: 1.8 } },
    r(435, 8, 15, 13, "none", icon),
    { type: "polygon", z: 20, silent: true, shape: { points: [[440, 21], [447, 21], [447, 25]] }, style: { fill: icon } },
    { type: "polygon", z: 20, silent: true, shape: { points: [[462, 11], [466, 13], [470, 10], [475, 9], [478, 11], [480, 10], [478, 14], [475, 20], [468, 24], [462, 22], [466, 21], [464, 18], [465, 17], [463, 15]] }, style: { fill: icon } },
    txt("f", 498, 16.5, icon, `bold 22px ${FONT}`, "center"),
    ...[1826, 1847, 1867, 1887].map((x) => r(x, 0, 20, 14.5, btn, "#888")),
    r(1907, 0, 19, 14.5, "#9a4a38", "#888"),
    txt("?", 1836, 7.5, "#cfcfcf", `bold 11px ${FONT}`, "center"),
    r(1852, 3, 9, 8, "none", "#cfcfcf"),
    r(1872, 9, 9, 2, "#cfcfcf"),
    r(1892, 3, 9, 8, "none", "#cfcfcf"),
    txt("X", 1916.5, 7.5, "#e0d8d0", `bold 12px ${FONT}`, "center"),
    // watermark
    { type: "text", z: 1, silent: true, style: { text: "TRADERDAN.COM", x: 538, y: 526, fill: "#b2b2b2", stroke: "#a6a6a6", lineWidth: 3.5, font: `bold 96px ${FONT}`, textAlign: "left", textVerticalAlign: "middle" } },
    // annotations
    txt("© eSignal, 2015", 7, 647, "#4a4a4a", `9.5px ${FONT}`),
    txt("OVERHEAD RESISTANCE", 939, 85, "#2a8fe6", `italic bold 16.6px ${FONT}`),
    txt("20 DMA", 1073, 221.5, "#c41616", `italic bold 13.6px ${FONT}`),
    txt("10 DMA", 1464, 136.5, "#15159e", `italic bold 13.6px ${FONT}`),
    txt("40 DMA", 1485, 194, "#1d6a1d", `italic bold 13.6px ${FONT}`),
    txt("100 DMA", 1486, 231.5, "#2b0b55", `italic bold 13.6px ${FONT}`),
    txt("U S Dollar Index", 1574, 468, "#0a5a0a", `italic bold 32.2px ${FONT}`),
    txt("Daily Chart", 1574, 504, "#0a5a0a", `italic bold 32.2px ${FONT}`),
    // footer
    txt("Dyn", 5, 1035, "#c8c8c8", `12px ${FONT}`),
    r(30, 1027, 14, 15, "#555", "#aaa"),
    txt("fo", 37, 1035, "#dddddd", `9px ${FONT}`, "center"),
    r(1235, 1030, 58, 14, "#666666"),
    txt("10/20/2015", 1264, 1037, "#e6e6e6", `11.5px ${FONT}`, "center"),
  ];
}

export default function App() {
  const ref = useRef<HTMLDivElement>(null);
  useEffect(() => {
    document.body.style.margin = "0";
    document.documentElement.style.overflow = "hidden";
    const chart = echarts.init(ref.current!, undefined, { renderer: "svg" });
    const option: any = {
      animation: false,
      backgroundColor: "#000000",
      tooltip: { show: false },
      grid: [
        { left: 3, top: 32, width: 1873, height: 625, show: true, backgroundColor: BG, borderWidth: 0 },
        { left: 3, top: 657, width: 1873, height: 195, show: true, backgroundColor: BG, borderWidth: 0 },
        { left: 3, top: 852, width: 1873, height: 172, show: true, backgroundColor: BG, borderWidth: 0 },
      ],
      xAxis: [gridAxisX(0, false), gridAxisX(1, false), gridAxisX(2, true)],
      yAxis: [
        gridAxisY(0, 84.624, 102.583, priceTicks, 3),
        gridAxisY(1, -1.209, 1.946, macdTicks, 2),
        gridAxisY(2, 3.34, 49.7, dmiTicks, 2),
      ],
      series: [
        {
          name: "DX #F", type: "candlestick", xAxisIndex: 0, yAxisIndex: 0, barWidth: 4, z: 2,
          data: ohlc.map((d, i) => [i, d[0], d[1], d[2], d[3]]),
          encode: { x: 0, y: [1, 2, 3, 4] },
          itemStyle: { color: "#e6e6e6", color0: "#7c0a0a", borderColor: "#000000", borderColor0: "#1a0000", borderWidth: 1 },
          silent: true,
        },
        lineSeries("100 DMA", dma100, "#2e0a52", 2.2, 0, 0.2),
        lineSeries("40 DMA", dma40, "#0c5c10", 2.2, 0, 0.2),
        lineSeries("20 DMA", dma20, "#bf1010", 2.2, 0, 0.2),
        lineSeries("10 DMA", dma10, "#0808a0", 2.2, 0, 0.2),
        {
          name: "Zones", type: "line", data: [], xAxisIndex: 0, yAxisIndex: 0, z: 4, silent: true,
          markArea: {
            silent: true,
            data: [
              [{ xAxis: resistanceBand.from, yAxis: resistanceBand.low, itemStyle: { color: "rgba(100,175,235,0.75)", borderColor: "#2a8fe6", borderWidth: 1.5 } }, { xAxis: resistanceBand.to, yAxis: resistanceBand.high }],
              [{ xAxis: supportBand.from, yAxis: supportBand.low, itemStyle: { color: "rgba(225,100,100,0.75)", borderColor: "#b81414", borderWidth: 1.5 } }, { xAxis: supportBand.to, yAxis: supportBand.high }],
            ],
          },
        },
        {
          name: "Histogram", type: "bar", xAxisIndex: 1, yAxisIndex: 1, barWidth: 2, z: 2, silent: true,
          data: macdHist.map((v, i) => [i, v]),
          itemStyle: { color: "#de1a70" },
          markLine: { silent: true, symbol: "none", label: { show: false }, data: [{ yAxis: 0 }], lineStyle: { color: "#666666", type: [4, 3], width: 1 } },
        },
        lineSeries("MACD", macdLine, "#0808a8", 2, 1, 0.15),
        lineSeries("Signal", macdSignal, "#b80a0a", 2.1, 1, 0.3),
        lineSeries("ADX", dmiPurple, "#2e0a52", 4, 2, false),
        lineSeries("+DI", dmiBlue, "#0606a8", 2.5, 2, false),
        lineSeries("-DI", dmiRed, "#bf0a0a", 2.5, 2, false),
      ],
    };
    chart.setOption(option);

    const tag = (yIdx: number, t: { v: number; t: string; c: string }) => {
      const y = chart.convertToPixel({ yAxisIndex: yIdx } as any, t.v) as number;
      return [
        { type: "polygon", z: 16, silent: true, shape: { points: [[1876.5, y], [1881, y - 6.5], [1929, y - 6.5], [1929, y + 6.5], [1881, y + 6.5]] }, style: { fill: t.c } },
        { type: "text", z: 17, silent: true, style: { text: t.t, x: 1881, y, fill: "#f2f2f2", font: `11.5px ${FONT}`, textAlign: "left", textVerticalAlign: "middle" } },
      ];
    };
    const elements = [
      ...staticGraphics(),
      ...priceTags.flatMap((t) => tag(0, t)),
      ...macdTags.flatMap((t) => tag(1, t)),
      ...dmiTags.flatMap((t) => tag(2, t)),
    ];
    chart.setOption({ graphic: { elements } });
    return () => chart.dispose();
  }, []);
  return <div ref={ref} style={{ width: 1934, height: 1048 }} />;
}
